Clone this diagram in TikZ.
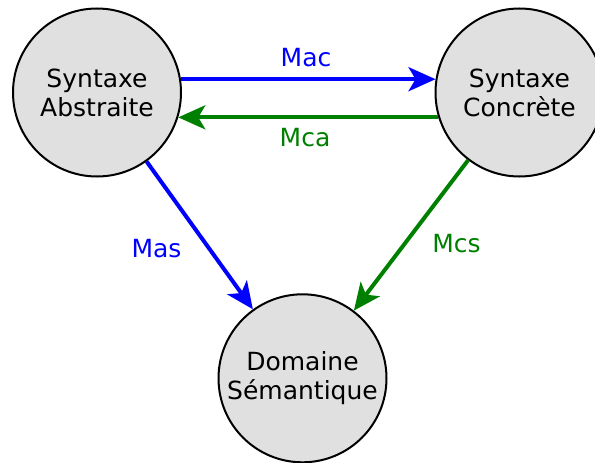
\documentclass[tikz,border=0pt]{standalone}
\usepackage{fontspec}
\setmainfont{DejaVu Sans}
\usepackage{tikz}
\usetikzlibrary{arrows.meta}
\definecolor{domgray}{HTML}{E0E0E0}
\definecolor{mapblue}{HTML}{0000FF}
\definecolor{mapgreen}{HTML}{008000}
\tikzset{
  dom/.style={circle, draw=black, line width=2pt, fill=domgray,
    font=\fontsize{25}{29}\selectfont, minimum size=168pt, align=center, inner sep=0pt},
  ar/blue/.style={-{Stealth[length=27pt, width=24pt, inset=7pt]}, draw=mapblue, line width=4pt},
  ar/green/.style={-{Stealth[length=27pt, width=24pt, inset=7pt]}, draw=mapgreen, line width=4pt},
  lb/blue/.style={font=\fontsize{25}{29}\selectfont, text=mapblue, inner sep=0pt},
  lb/green/.style={font=\fontsize{25}{29}\selectfont, text=mapgreen, inner sep=0pt},
}

\begin{document}
\begin{tikzpicture}[x=1pt, y=-1pt]
\useasboundingbox (0,0) rectangle (595,463);

%% ===== NODES =====
\node[dom] (SA) at (97,92.5)    {Syntaxe\\Abstraite};
\node[dom] (SC) at (519.5,92.5) {Syntaxe\\Concrète};
\node[dom] (DS) at (302.5,378.3) {Domaine\\Sémantique};

%% ===== LABELS =====
\node[lb/blue]  (MAC) at (306,57.5)    {Mac};
\node[lb/green] (MCA) at (305,138)     {Mca};
\node[lb/blue]  (MAS) at (156.5,248.5) {Mas};
\node[lb/green] (MCS) at (456.5,243.5) {Mcs};

%% ===== ARROWS =====
\draw[ar/blue]  (SA.9)   -- (SC.171);
\draw[ar/green] (SC.197) -- (SA.-17);
\draw[ar/blue]  (SA) -- (DS);
\draw[ar/green] (SC) -- (DS);
\end{tikzpicture}
\end{document}
